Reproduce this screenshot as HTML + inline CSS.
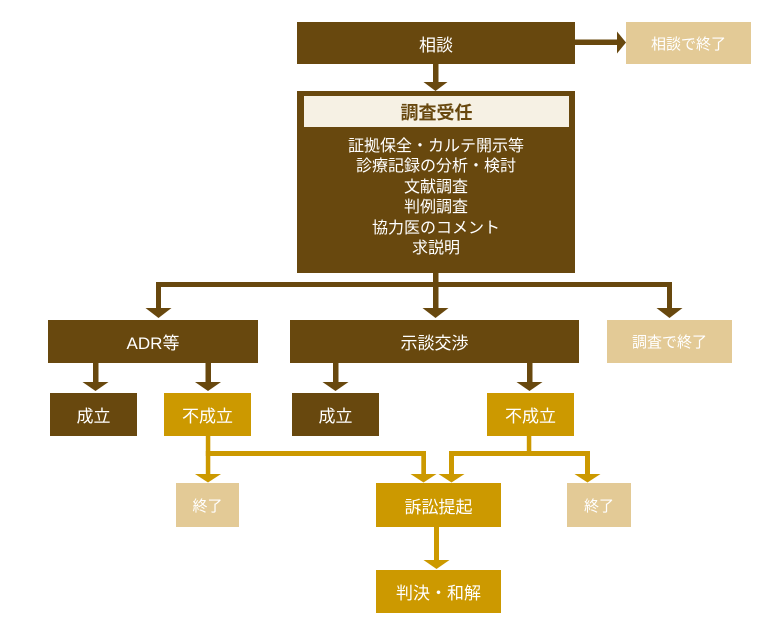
<!DOCTYPE html>
<html>
<head>
<meta charset="utf-8">
<style>
  html, body { margin:0; padding:0; background:#ffffff; }
  body { width:782px; height:635px; position:relative; overflow:hidden;
         font-family:"Liberation Sans","Noto Sans CJK JP",sans-serif; }
  .b { position:absolute; display:flex; align-items:center; justify-content:center;
       color:#ffffff; font-size:17px; white-space:nowrap; box-sizing:border-box; }
  .dk { background:#68480e; }
  .tn { background:#e3ca96; font-size:15px; }
  .gd { background:#cc9900; }
  svg { position:absolute; left:0; top:0; }
</style>
</head>
<body>
<svg width="782" height="635" viewBox="0 0 782 635">
  <g fill="#68480e">
    <!-- 相談 -> 相談で終了 -->
    <rect x="575" y="39.5" width="43" height="5.5"/>
    <polygon points="617,31.5 626,42.5 617,53.5"/>
    <!-- 相談 -> 調査受任 -->
    <rect x="433" y="64" width="5.5" height="19"/>
    <polygon points="423.5,82 447.5,82 435.5,91"/>
    <!-- 調査受任 branches -->
    <rect x="433" y="273" width="5.5" height="14"/>
    <rect x="156" y="282" width="516" height="5"/>
    <rect x="156" y="282" width="5" height="27"/>
    <polygon points="145.5,308 171.5,308 158.5,318"/>
    <rect x="433" y="282" width="5.5" height="27"/>
    <polygon points="422.5,308 448.5,308 435.5,318"/>
    <rect x="667" y="282" width="5" height="27"/>
    <polygon points="656.5,308 682.5,308 669.5,318"/>
    <!-- ADR sub arrows -->
    <rect x="93" y="362" width="5.5" height="21"/>
    <polygon points="82.5,382 108.5,382 95.5,391"/>
    <rect x="205.5" y="362" width="5.5" height="21"/>
    <polygon points="195,382 221,382 208,391"/>
    <!-- 示談交渉 sub arrows -->
    <rect x="333" y="362" width="5.5" height="21"/>
    <polygon points="322.5,382 348.5,382 335.5,391"/>
    <rect x="527" y="362" width="5.5" height="21"/>
    <polygon points="516.5,382 542.5,382 529.5,391"/>
  </g>
  <g fill="#cc9900">
    <!-- left 不成立 -->
    <rect x="205.8" y="436" width="4.5" height="39"/>
    <rect x="205.8" y="451" width="220.2" height="5"/>
    <rect x="421.3" y="451" width="4.7" height="24"/>
    <polygon points="195,474 221,474 208,482.5"/>
    <polygon points="410.5,474 436.5,474 423.5,482.5"/>
    <!-- right 不成立 -->
    <rect x="526.8" y="436" width="4.5" height="20"/>
    <rect x="449" y="451" width="141" height="5"/>
    <rect x="449" y="451" width="5" height="24"/>
    <rect x="585" y="451" width="5" height="24"/>
    <polygon points="438.5,474 464.5,474 451.5,482.5"/>
    <polygon points="574.5,474 600.5,474 587.5,482.5"/>
    <!-- 訴訟提起 -> 判決・和解 -->
    <rect x="434" y="527" width="5" height="34"/>
    <polygon points="423.5,560 449.5,560 436.5,569"/>
  </g>
</svg>

<div class="b dk" style="left:297px;top:22px;width:278px;height:42px;">相談</div>
<div class="b tn" style="left:626px;top:22px;width:125px;height:42px;">相談で終了</div>

<div class="b dk" style="left:297px;top:91px;width:278px;height:182px;display:block;">
  <div style="position:absolute;left:7px;top:5px;width:265px;height:31px;background:#f6f1e4;color:#68480e;font-weight:bold;font-size:18px;display:flex;align-items:center;justify-content:center;">調査受任</div>
  <div style="position:absolute;left:0;top:45.5px;width:278px;text-align:center;font-size:16px;line-height:20.5px;">証拠保全・カルテ開示等<br>診療記録の分析・検討<br>文献調査<br>判例調査<br>協力医のコメント<br>求説明</div>
</div>

<div class="b dk" style="left:48px;top:320px;width:210px;height:43px;">ADR等</div>
<div class="b dk" style="left:290px;top:320px;width:289px;height:43px;">示談交渉</div>
<div class="b tn" style="left:607px;top:320px;width:125px;height:43px;">調査で終了</div>

<div class="b dk" style="left:50px;top:393px;width:87px;height:43px;">成立</div>
<div class="b gd" style="left:164px;top:393px;width:87px;height:43px;">不成立</div>
<div class="b dk" style="left:292px;top:393px;width:87px;height:43px;">成立</div>
<div class="b gd" style="left:487px;top:393px;width:87px;height:43px;">不成立</div>

<div class="b tn" style="left:176px;top:483px;width:63px;height:44px;">終了</div>
<div class="b gd" style="left:376px;top:483px;width:125px;height:44px;">訴訟提起</div>
<div class="b tn" style="left:567px;top:483px;width:64px;height:44px;">終了</div>

<div class="b gd" style="left:376px;top:570px;width:125px;height:43px;">判決・和解</div>
</body>
</html>
